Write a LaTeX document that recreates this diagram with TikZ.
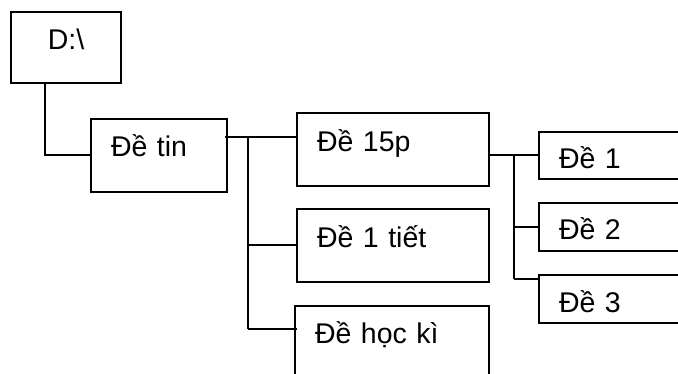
\documentclass[tikz,border=0pt]{standalone}
\usepackage{fontspec}
\setmainfont{Liberation Sans}
\usepackage{tikz}

\begin{document}
\begin{tikzpicture}[x=1pt, y=-1pt,
		big_style/.style={draw=black, line width=2pt, anchor=base west, inner xsep=20pt, inner ysep=0pt,
			align=left, text height=38pt, text depth=35pt, font=\fontsize{28.5}{34}\selectfont},
		small_style/.style={big_style, text height=37pt, text depth=10pt, text width=120pt},
		edge_style/.style={draw=black, line width=2pt}]
		
		\useasboundingbox (0,0) rectangle (678,374);
		\clip (0,0) rectangle (678,374);
		
		\node[big_style, align=center, text width=70pt, text depth=33pt] (root) at (10,50) {D:\textbackslash};
		\node[big_style, text width=96pt] (tin) at (90,157) {Đề tin};
		\node[big_style, text width=152pt, text height=39pt, text depth=34pt] (p15) at (296,152) {Đề 15p};
		\node[big_style, text width=152pt, text height=39pt, text depth=34pt] (tiet) at (296,248) {Đề 1 tiết};
		\node[big_style, text width=154pt] (hk) at (294,344) {Đề học kì};
		\node[small_style] (d1) at (538,169) {Đề 1};
		\node[small_style, text depth=11pt] (d2) at (538,240) {Đề 2};
		\node[small_style, text height=38pt] (d3) at (538,313) {Đề 3};
		
		\coordinate (s1) at (248,137);
		\coordinate (s2) at (248,329);
		\coordinate (s3) at (514,155);
		\coordinate (s4) at (514,279);
		
		\draw[edge_style]  ([xshift=-21pt]root.south) |- ([xshift=2pt]tin.west);
		\draw[edge_style]  ([xshift=-3pt]tin.east |- s1) -- (p15.west |- s1);
		\draw[edge_style]  (s1) -- (s2);
		\draw[edge_style]  (s1 |- tiet.west) -- (tiet.west);
		\draw[edge_style]  (s2) -- ([xshift=3pt]hk.west |- s2);
		\draw[edge_style]  (p15.east |- d1.west) -- (d1.west);
		\draw[edge_style]  (s3) -- (s4);
		\draw[edge_style]  (s3 |- d2.west) -- (d2.west);
		\draw[edge_style]  (s4) -- (d3.west |- s4);
		
\end{tikzpicture}
\end{document}
